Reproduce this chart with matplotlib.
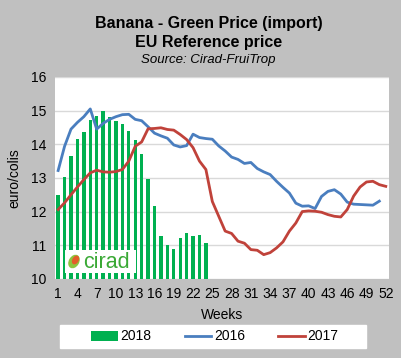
import numpy as np
import matplotlib.pyplot as plt
from matplotlib.patches import Rectangle, Ellipse

plt.rcParams['font.family'] = ['Liberation Sans', 'DejaVu Sans']

weeks = np.arange(1, 53)
tick_weeks = [1, 4, 7, 10, 13, 16, 19, 22, 25, 28, 31, 34, 37, 40, 43, 46, 49, 52]

# 2018 green bars, weeks 1-24
y2018 = [12.48, 13.02, 13.64, 14.16, 14.37, 14.73, 14.85, 14.98, 14.80, 14.69,
         14.59, 14.38, 14.13, 13.70, 12.97, 12.18, 11.27, 11.00, 10.89, 11.20,
         11.36, 11.26, 11.30, 11.08]

# 2016 blue line, weeks 1-51
y2016 = [13.22, 13.94, 14.45, 14.65, 14.82, 15.05, 14.45, 14.62, 14.74, 14.82,
         14.88, 14.89, 14.74, 14.70, 14.52, 14.33, 14.25, 14.18, 13.98, 13.92,
         13.96, 14.30, 14.20, 14.17, 14.15, 13.95, 13.80, 13.62, 13.55, 13.43,
         13.46, 13.28, 13.18, 13.10, 12.90, 12.72, 12.55, 12.25, 12.16, 12.17,
         12.09, 12.45, 12.60, 12.65, 12.52, 12.28, 12.22, 12.21, 12.20, 12.19,
         12.31]

# 2017 red line, weeks 1-52
y2017 = [12.06, 12.26, 12.50, 12.73, 12.95, 13.15, 13.23, 13.18, 13.17, 13.19,
         13.25, 13.50, 13.94, 14.07, 14.46, 14.47, 14.49, 14.44, 14.42, 14.29,
         14.14, 13.90, 13.50, 13.25, 12.30, 11.86, 11.42, 11.35, 11.12, 11.06,
         10.87, 10.85, 10.72, 10.78, 10.92, 11.10, 11.42, 11.66, 12.00, 12.02,
         12.01, 11.98, 11.91, 11.86, 11.84, 12.06, 12.46, 12.73, 12.88, 12.90,
         12.80, 12.75]

bg = '#c0c0c0'
fig = plt.figure(figsize=(4.01, 3.58), dpi=100, facecolor=bg)
ax = fig.add_axes([0.137, 0.221, 0.833, 0.564])
ax.set_facecolor('white')

b = ax.bar(weeks[:len(y2018)], y2018, width=0.52, color='#00b050', label='2018', zorder=2)
l1, = ax.plot(weeks[:len(y2016)], y2016, color='#4a7ebf', lw=2, label='2016', zorder=3)
l2, = ax.plot(weeks[:len(y2017)], y2017, color='#c0423a', lw=2, label='2017', zorder=3)

ax.set_ylim(10, 16)
ax.set_xlim(0.5, 52.5)
ax.set_yticks(range(10, 17))
ax.set_xticks(tick_weeks)
ax.tick_params(length=0, labelsize=10, pad=6)
ax.yaxis.grid(True, color='#d9d9d9', lw=1, zorder=0)
ax.set_axisbelow(True)
for s in ax.spines.values():
    s.set_visible(False)

ax.set_xlabel('Weeks', fontsize=10, labelpad=5)
ax.set_ylabel('euro/colis', fontsize=10, labelpad=7)

fig.text(0.52, 0.935, 'Banana - Green Price (import)', ha='center', va='center',
         fontsize=11.5, fontweight='bold')
fig.text(0.52, 0.882, 'EU Reference price', ha='center', va='center',
         fontsize=11.5, fontweight='bold')
fig.text(0.52, 0.832, 'Source: Cirad-FruiTrop', ha='center', va='center',
         fontsize=9.5, style='italic')

# cirad logo box
logo = fig.add_axes([65 / 401, 1 - 273 / 358, 71 / 401, 23 / 358])
logo.set_xlim(0, 71)
logo.set_ylim(0, 23)
logo.axis('off')
logo.add_patch(Rectangle((0, 0), 71, 23, color='white'))
logo.add_patch(Ellipse((9, 11.5), 9, 13, angle=-30, color='#8cc63f'))
logo.add_patch(Ellipse((10.5, 13), 5, 8, angle=-30, color='#e35d2a'))
logo.text(18, 10, 'cirad', fontsize=15.5, color='#3aa935', va='center', ha='left')

# legend with white box
fig.patches.append(Rectangle((60 / 401, 1 - 348 / 358), 306 / 401, 23 / 358,
                             transform=fig.transFigure, color='white', zorder=0))
leg = fig.legend([b, l1, l2], ['2018', '2016', '2017'], loc='center',
                 bbox_to_anchor=(215 / 401, 1 - 336.5 / 358), ncol=3,
                 frameon=False, fontsize=10, handlelength=1.9,
                 columnspacing=2.4, handletextpad=0.2)

fig.savefig('out.png', dpi=100, facecolor=bg)
